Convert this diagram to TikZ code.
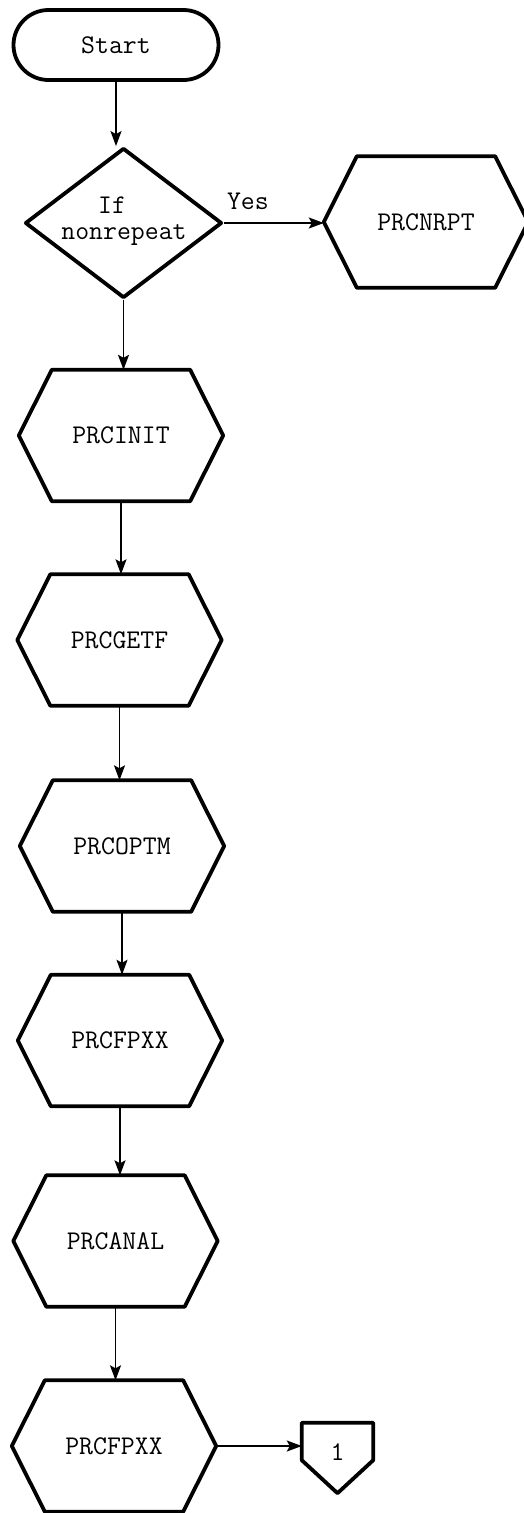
\documentclass[tikz,border=0pt]{standalone}
\usepackage{fontspec}
\usetikzlibrary{shapes.geometric,arrows.meta,calc}

\tikzset{
  lbl/.style={font=\ttfamily\fontsize{27}{32}\selectfont, inner sep=0pt},
  outline/.style={line width=3.8pt, line join=round},
  terminal/.style={lbl, outline, draw, rounded corners=35pt,
                   minimum width=205pt, minimum height=70pt},
  decision/.style={outline, draw, diamond, inner sep=0pt,
                   minimum width=197pt, minimum height=150pt},
  procbox/.style={lbl, minimum width=204pt, minimum height=131pt},
  connbox/.style={lbl, minimum width=71pt, minimum height=37pt},
  flow/.style={line width=1.6pt, -{Stealth[length=15pt,width=11pt,inset=3pt]}}
}

\begin{document}
\begin{tikzpicture}[x=1pt,y=-1pt]
  \useasboundingbox (0,0) rectangle (524,1513);

  % start and the nonrepeat test
  \node[terminal] (start) at (116,45) {Start};
  \node[decision] (dec) at (123.5,223) {};
  \node[lbl] (ifa) at (112,205) {If};
  \node[lbl] (ifb) at (124,235) {nonrepeat};

  % subroutine boxes
  \node[procbox] (nrpt) at (426,222)    {PRCNRPT};
  \node[procbox] (init) at (121,435.5)  {PRCINIT};
  \node[procbox] (getf) at (119.5,640)  {PRCGETF};
  \node[procbox] (optm) at (122,846)    {PRCOPTM};
  \node[procbox] (fpxa) at (120,1040.5) {PRCFPXX};
  \node[procbox] (anal) at (115.5,1241) {PRCANAL};
  \node[procbox] (fpxb) at (114,1446)   {PRCFPXX};

  % hexagonal outlines of the subroutine boxes
  \foreach \n in {nrpt,init,getf,optm,fpxa,anal,fpxb}
    \draw[outline] (\n.west) -- ([xshift=33pt]\n.north west)
      -- ([xshift=-33pt]\n.north east) -- (\n.east)
      -- ([xshift=-33pt]\n.south east) -- ([xshift=33pt]\n.south west)
      -- cycle;

  % off-page connector
  \node[connbox] (c1) at (337.5,1441.5) {};
  \draw[outline] (c1.north west) -- (c1.north east) -- (c1.south east)
    -- ($(c1.south)+(0,33)$) -- (c1.south west) -- cycle;
  \node[lbl] (c1txt) at ($(c1.center)+(0,10.5)$) {1};

  % connectors
  \draw[flow] (start.south) -- (start.south |- dec.north);
  \draw[flow] (dec.east) -- node[lbl, pos=0.24, anchor=south, yshift=13pt] {Yes}
    (dec.east -| nrpt.west);
  \draw[flow] (dec.south) -- (dec.south |- init.north);
  \draw[flow] (init.south) -- (init.south |- getf.north);
  \draw[flow] (getf.south) -- (getf.south |- optm.north);
  \draw[flow] (optm.south) -- (optm.south |- fpxa.north);
  \draw[flow] (fpxa.south) -- (fpxa.south |- anal.north);
  \draw[flow] (anal.south) -- (anal.south |- fpxb.north);
  \draw[flow] (fpxb.east) -- (fpxb.east -| c1.west);
\end{tikzpicture}
\end{document}
